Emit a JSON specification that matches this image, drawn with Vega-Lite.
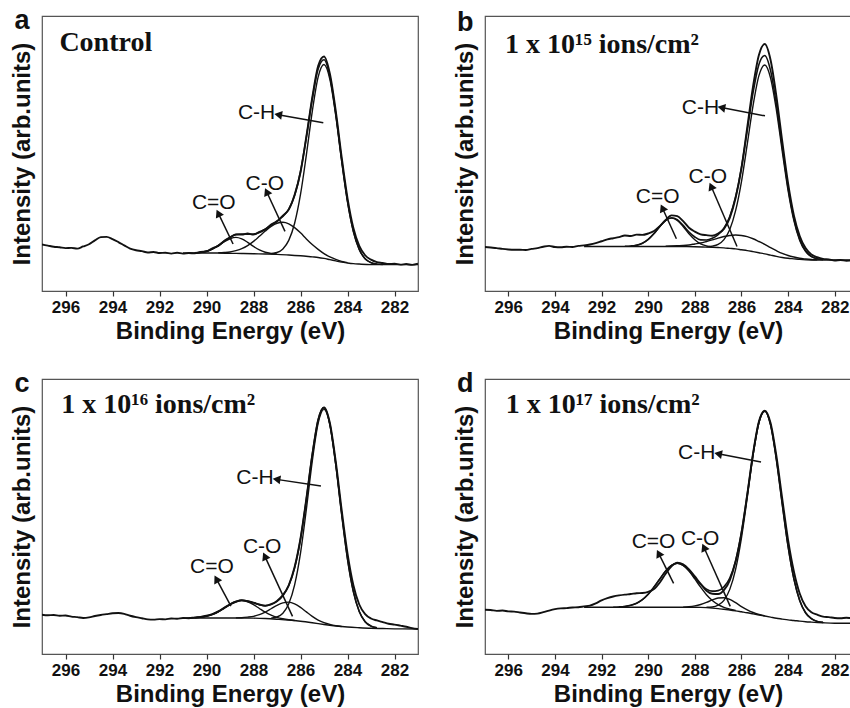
{
"$schema": "https://vega.github.io/schema/vega-lite/v6.json",
"padding": {"left": 9, "top": 6, "right": 0, "bottom": 0},
"background": "white",
"datasets": {
"curves": [
{"p":"a","s":"raw","x":297,"y":16.9},{"p":"a","s":"raw","x":296.75,"y":16.5},{"p":"a","s":"raw","x":296.5,"y":16.1},{"p":"a","s":"raw","x":296.25,"y":15.9},{"p":"a","s":"raw","x":296,"y":15.6},{"p":"a","s":"raw","x":295.75,"y":15.7},{"p":"a","s":"raw","x":295.5,"y":15.4},{"p":"a","s":"raw","x":295.25,"y":16.2},{"p":"a","s":"raw","x":295,"y":17.0},{"p":"a","s":"raw","x":294.75,"y":18.4},{"p":"a","s":"raw","x":294.5,"y":19.6},{"p":"a","s":"raw","x":294.25,"y":19.7},{"p":"a","s":"raw","x":294,"y":18.9},{"p":"a","s":"raw","x":293.75,"y":17.8},{"p":"a","s":"raw","x":293.5,"y":16.6},{"p":"a","s":"raw","x":293.25,"y":15.4},{"p":"a","s":"raw","x":293,"y":14.8},{"p":"a","s":"raw","x":292.75,"y":14.5},{"p":"a","s":"raw","x":292.5,"y":14.0},{"p":"a","s":"raw","x":292.25,"y":14.2},{"p":"a","s":"raw","x":292,"y":13.8},{"p":"a","s":"raw","x":291.75,"y":13.9},{"p":"a","s":"raw","x":291.5,"y":13.6},{"p":"a","s":"raw","x":291.25,"y":13.9},{"p":"a","s":"raw","x":291,"y":13.6},{"p":"a","s":"raw","x":290.75,"y":13.8},{"p":"a","s":"raw","x":290.5,"y":13.7},{"p":"a","s":"raw","x":290.25,"y":14.2},{"p":"a","s":"raw","x":290,"y":14.4},{"p":"a","s":"raw","x":289.75,"y":15.5},{"p":"a","s":"raw","x":289.5,"y":16.4},{"p":"a","s":"raw","x":289.25,"y":18.2},{"p":"a","s":"raw","x":289,"y":19.4},{"p":"a","s":"raw","x":288.75,"y":20.6},{"p":"a","s":"raw","x":288.5,"y":20.5},{"p":"a","s":"raw","x":288.25,"y":20.9},{"p":"a","s":"raw","x":288,"y":20.5},{"p":"a","s":"raw","x":287.75,"y":21.5},{"p":"a","s":"raw","x":287.5,"y":22.4},{"p":"a","s":"raw","x":287.25,"y":24.2},{"p":"a","s":"raw","x":287,"y":25.3},{"p":"a","s":"raw","x":286.75,"y":27.4},{"p":"a","s":"raw","x":286.5,"y":29.6},{"p":"a","s":"raw","x":286.25,"y":35.0},{"p":"a","s":"raw","x":286,"y":43.2},{"p":"a","s":"raw","x":285.75,"y":56.2},{"p":"a","s":"raw","x":285.5,"y":70.3},{"p":"a","s":"raw","x":285.25,"y":81.8},{"p":"a","s":"raw","x":285,"y":85.3},{"p":"a","s":"raw","x":284.75,"y":79.0},{"p":"a","s":"raw","x":284.5,"y":65.5},{"p":"a","s":"raw","x":284.25,"y":48.8},{"p":"a","s":"raw","x":284,"y":33.8},{"p":"a","s":"raw","x":283.75,"y":22.9},{"p":"a","s":"raw","x":283.5,"y":16.4},{"p":"a","s":"raw","x":283.25,"y":13.0},{"p":"a","s":"raw","x":283,"y":11.4},{"p":"a","s":"raw","x":282.75,"y":10.5},{"p":"a","s":"raw","x":282.5,"y":10.2},{"p":"a","s":"raw","x":282.25,"y":9.8},{"p":"a","s":"raw","x":282,"y":9.9},{"p":"a","s":"raw","x":281.75,"y":9.6},{"p":"a","s":"raw","x":281.5,"y":9.8},{"p":"a","s":"raw","x":281.25,"y":9.5},{"p":"a","s":"raw","x":281,"y":9.9},
{"p":"a","s":"env","x":290.5,"y":13.9},{"p":"a","s":"env","x":290.25,"y":14.05},{"p":"a","s":"env","x":290,"y":14.5},{"p":"a","s":"env","x":289.75,"y":15.3},{"p":"a","s":"env","x":289.5,"y":16.55},{"p":"a","s":"env","x":289.25,"y":18.1},{"p":"a","s":"env","x":289,"y":19.55},{"p":"a","s":"env","x":288.75,"y":20.5},{"p":"a","s":"env","x":288.5,"y":20.75},{"p":"a","s":"env","x":288.25,"y":20.65},{"p":"a","s":"env","x":288,"y":20.7},{"p":"a","s":"env","x":287.75,"y":21.3},{"p":"a","s":"env","x":287.5,"y":22.5},{"p":"a","s":"env","x":287.25,"y":23.95},{"p":"a","s":"env","x":287,"y":25.45},{"p":"a","s":"env","x":286.75,"y":27.1},{"p":"a","s":"env","x":286.5,"y":29.8},{"p":"a","s":"env","x":286.25,"y":34.75},{"p":"a","s":"env","x":286,"y":43.45},{"p":"a","s":"env","x":285.75,"y":55.85},{"p":"a","s":"env","x":285.5,"y":69.75},{"p":"a","s":"env","x":285.25,"y":80.75},{"p":"a","s":"env","x":285,"y":84.1},{"p":"a","s":"env","x":284.75,"y":78.0},{"p":"a","s":"env","x":284.5,"y":64.4},{"p":"a","s":"env","x":284.25,"y":47.65},{"p":"a","s":"env","x":284,"y":32.6},{"p":"a","s":"env","x":283.75,"y":21.7},{"p":"a","s":"env","x":283.5,"y":15.15},{"p":"a","s":"env","x":283.25,"y":11.75},{"p":"a","s":"env","x":283,"y":10.3},{"p":"a","s":"env","x":282.75,"y":9.8},{"p":"a","s":"env","x":282.5,"y":9.65},
{"p":"a","s":"bg","x":291,"y":13.8},{"p":"a","s":"bg","x":290,"y":13.8},{"p":"a","s":"bg","x":289.5,"y":13.8},{"p":"a","s":"bg","x":289,"y":13.7},{"p":"a","s":"bg","x":288.5,"y":13.65},{"p":"a","s":"bg","x":288,"y":13.55},{"p":"a","s":"bg","x":287.5,"y":13.45},{"p":"a","s":"bg","x":287,"y":13.3},{"p":"a","s":"bg","x":286.5,"y":13.1},{"p":"a","s":"bg","x":286,"y":12.8},{"p":"a","s":"bg","x":285.5,"y":12.4},{"p":"a","s":"bg","x":285.25,"y":12.2},{"p":"a","s":"bg","x":285,"y":11.85},{"p":"a","s":"bg","x":284.75,"y":11.4},{"p":"a","s":"bg","x":284.5,"y":10.95},{"p":"a","s":"bg","x":284.25,"y":10.5},{"p":"a","s":"bg","x":284,"y":10.2},{"p":"a","s":"bg","x":283.75,"y":9.95},{"p":"a","s":"bg","x":283.5,"y":9.8},{"p":"a","s":"bg","x":283,"y":9.6},{"p":"a","s":"bg","x":282,"y":9.6},{"p":"a","s":"bg","x":281,"y":9.6},
{"p":"a","s":"ch","x":287.25,"y":13.6},{"p":"a","s":"ch","x":287,"y":14.0},{"p":"a","s":"ch","x":286.75,"y":15.3},{"p":"a","s":"ch","x":286.5,"y":18.4},{"p":"a","s":"ch","x":286.25,"y":24.65},{"p":"a","s":"ch","x":286,"y":35.1},{"p":"a","s":"ch","x":285.75,"y":49.5},{"p":"a","s":"ch","x":285.5,"y":65.25},{"p":"a","s":"ch","x":285.25,"y":77.8},{"p":"a","s":"ch","x":285,"y":82.35},{"p":"a","s":"ch","x":284.75,"y":77.0},{"p":"a","s":"ch","x":284.5,"y":63.85},{"p":"a","s":"ch","x":284.25,"y":47.4},{"p":"a","s":"ch","x":284,"y":32.5},{"p":"a","s":"ch","x":283.75,"y":21.65},{"p":"a","s":"ch","x":283.5,"y":15.1},{"p":"a","s":"ch","x":283.25,"y":11.75},{"p":"a","s":"ch","x":283,"y":10.3},{"p":"a","s":"ch","x":282.75,"y":9.8},
{"p":"a","s":"co","x":289.5,"y":13.9},{"p":"a","s":"co","x":289.25,"y":14.0},{"p":"a","s":"co","x":289,"y":14.2},{"p":"a","s":"co","x":288.75,"y":14.7},{"p":"a","s":"co","x":288.5,"y":15.4},{"p":"a","s":"co","x":288.25,"y":16.5},{"p":"a","s":"co","x":288,"y":18.05},{"p":"a","s":"co","x":287.75,"y":19.9},{"p":"a","s":"co","x":287.5,"y":21.8},{"p":"a","s":"co","x":287.25,"y":23.5},{"p":"a","s":"co","x":287,"y":24.65},{"p":"a","s":"co","x":286.75,"y":25.0},{"p":"a","s":"co","x":286.5,"y":24.45},{"p":"a","s":"co","x":286.25,"y":23.05},{"p":"a","s":"co","x":286,"y":21.15},{"p":"a","s":"co","x":285.75,"y":18.95},{"p":"a","s":"co","x":285.5,"y":16.9},{"p":"a","s":"co","x":285.25,"y":15.15},{"p":"a","s":"co","x":285,"y":13.6},{"p":"a","s":"co","x":284.75,"y":12.4},{"p":"a","s":"co","x":284.5,"y":11.5},{"p":"a","s":"co","x":284.25,"y":10.75},{"p":"a","s":"co","x":284,"y":10.3},
{"p":"a","s":"c2o","x":290.5,"y":13.9},{"p":"a","s":"c2o","x":290.25,"y":14.05},{"p":"a","s":"c2o","x":290,"y":14.45},{"p":"a","s":"c2o","x":289.75,"y":15.25},{"p":"a","s":"c2o","x":289.5,"y":16.45},{"p":"a","s":"c2o","x":289.25,"y":17.85},{"p":"a","s":"c2o","x":289,"y":19.0},{"p":"a","s":"c2o","x":288.75,"y":19.5},{"p":"a","s":"c2o","x":288.5,"y":18.95},{"p":"a","s":"c2o","x":288.25,"y":17.7},{"p":"a","s":"c2o","x":288,"y":16.2},{"p":"a","s":"c2o","x":287.75,"y":14.95},{"p":"a","s":"c2o","x":287.5,"y":14.1},{"p":"a","s":"c2o","x":287.25,"y":13.65},{"p":"a","s":"c2o","x":287,"y":13.4},
{"p":"b","s":"raw","x":297,"y":16.0},{"p":"b","s":"raw","x":296.75,"y":15.8},{"p":"b","s":"raw","x":296.5,"y":15.6},{"p":"b","s":"raw","x":296.25,"y":15.3},{"p":"b","s":"raw","x":296,"y":15.1},{"p":"b","s":"raw","x":295.75,"y":15.0},{"p":"b","s":"raw","x":295.5,"y":15.0},{"p":"b","s":"raw","x":295.25,"y":14.9},{"p":"b","s":"raw","x":295,"y":15.3},{"p":"b","s":"raw","x":294.75,"y":15.6},{"p":"b","s":"raw","x":294.5,"y":16.1},{"p":"b","s":"raw","x":294.25,"y":16.4},{"p":"b","s":"raw","x":294,"y":16.0},{"p":"b","s":"raw","x":293.75,"y":15.9},{"p":"b","s":"raw","x":293.5,"y":16.1},{"p":"b","s":"raw","x":293.25,"y":16.0},{"p":"b","s":"raw","x":293,"y":16.4},{"p":"b","s":"raw","x":292.75,"y":16.6},{"p":"b","s":"raw","x":292.5,"y":16.9},{"p":"b","s":"raw","x":292.25,"y":17.4},{"p":"b","s":"raw","x":292,"y":18.1},{"p":"b","s":"raw","x":291.75,"y":18.8},{"p":"b","s":"raw","x":291.5,"y":19.2},{"p":"b","s":"raw","x":291.25,"y":19.6},{"p":"b","s":"raw","x":291,"y":20.2},{"p":"b","s":"raw","x":290.75,"y":20.0},{"p":"b","s":"raw","x":290.5,"y":20.5},{"p":"b","s":"raw","x":290.25,"y":20.4},{"p":"b","s":"raw","x":290,"y":20.9},{"p":"b","s":"raw","x":289.75,"y":21.8},{"p":"b","s":"raw","x":289.5,"y":23.6},{"p":"b","s":"raw","x":289.25,"y":25.8},{"p":"b","s":"raw","x":289,"y":27.5},{"p":"b","s":"raw","x":288.75,"y":27.2},{"p":"b","s":"raw","x":288.5,"y":25.4},{"p":"b","s":"raw","x":288.25,"y":23.0},{"p":"b","s":"raw","x":288,"y":21.6},{"p":"b","s":"raw","x":287.75,"y":20.6},{"p":"b","s":"raw","x":287.5,"y":20.3},{"p":"b","s":"raw","x":287.25,"y":20.1},{"p":"b","s":"raw","x":287,"y":20.9},{"p":"b","s":"raw","x":286.75,"y":22.6},{"p":"b","s":"raw","x":286.5,"y":26.6},{"p":"b","s":"raw","x":286.25,"y":33.8},{"p":"b","s":"raw","x":286,"y":44.6},{"p":"b","s":"raw","x":285.75,"y":59.5},{"p":"b","s":"raw","x":285.5,"y":74.5},{"p":"b","s":"raw","x":285.25,"y":85.8},{"p":"b","s":"raw","x":285,"y":89.8},{"p":"b","s":"raw","x":284.75,"y":84.0},{"p":"b","s":"raw","x":284.5,"y":70.8},{"p":"b","s":"raw","x":284.25,"y":54.5},{"p":"b","s":"raw","x":284,"y":39.2},{"p":"b","s":"raw","x":283.75,"y":27.5},{"p":"b","s":"raw","x":283.5,"y":20.0},{"p":"b","s":"raw","x":283.25,"y":15.6},{"p":"b","s":"raw","x":283,"y":13.3},{"p":"b","s":"raw","x":282.75,"y":12.3},{"p":"b","s":"raw","x":282.5,"y":11.7},{"p":"b","s":"raw","x":282.25,"y":11.5},{"p":"b","s":"raw","x":282,"y":11.1},{"p":"b","s":"raw","x":281.75,"y":11.3},{"p":"b","s":"raw","x":281.5,"y":11.0},{"p":"b","s":"raw","x":281.25,"y":11.1},{"p":"b","s":"raw","x":281,"y":11.0},
{"p":"b","s":"env","x":291,"y":16.25},{"p":"b","s":"env","x":290.75,"y":16.35},{"p":"b","s":"env","x":290.5,"y":16.65},{"p":"b","s":"env","x":290.25,"y":17.35},{"p":"b","s":"env","x":290,"y":18.75},{"p":"b","s":"env","x":289.75,"y":20.9},{"p":"b","s":"env","x":289.5,"y":23.5},{"p":"b","s":"env","x":289.25,"y":25.7},{"p":"b","s":"env","x":289,"y":26.65},{"p":"b","s":"env","x":288.75,"y":25.9},{"p":"b","s":"env","x":288.5,"y":23.85},{"p":"b","s":"env","x":288.25,"y":21.45},{"p":"b","s":"env","x":288,"y":19.65},{"p":"b","s":"env","x":287.75,"y":18.6},{"p":"b","s":"env","x":287.5,"y":18.55},{"p":"b","s":"env","x":287.25,"y":19.15},{"p":"b","s":"env","x":287,"y":20.45},{"p":"b","s":"env","x":286.75,"y":22.85},{"p":"b","s":"env","x":286.5,"y":27.1},{"p":"b","s":"env","x":286.25,"y":34.3},{"p":"b","s":"env","x":286,"y":44.9},{"p":"b","s":"env","x":285.75,"y":58.45},{"p":"b","s":"env","x":285.5,"y":72.2},{"p":"b","s":"env","x":285.25,"y":82.4},{"p":"b","s":"env","x":285,"y":85.65},{"p":"b","s":"env","x":284.75,"y":80.15},{"p":"b","s":"env","x":284.5,"y":67.85},{"p":"b","s":"env","x":284.25,"y":52.4},{"p":"b","s":"env","x":284,"y":37.6},{"p":"b","s":"env","x":283.75,"y":26.25},{"p":"b","s":"env","x":283.5,"y":18.8},{"p":"b","s":"env","x":283.25,"y":14.65},{"p":"b","s":"env","x":283,"y":12.6},{"p":"b","s":"env","x":282.75,"y":11.75},{"p":"b","s":"env","x":282.5,"y":11.45},
{"p":"b","s":"bg","x":292.75,"y":16.2},{"p":"b","s":"bg","x":291,"y":16.2},{"p":"b","s":"bg","x":289,"y":16.2},{"p":"b","s":"bg","x":288.5,"y":16.15},{"p":"b","s":"bg","x":288,"y":16.1},{"p":"b","s":"bg","x":287.5,"y":15.95},{"p":"b","s":"bg","x":287,"y":15.8},{"p":"b","s":"bg","x":286.75,"y":15.7},{"p":"b","s":"bg","x":286.5,"y":15.5},{"p":"b","s":"bg","x":286.25,"y":15.3},{"p":"b","s":"bg","x":286,"y":15.0},{"p":"b","s":"bg","x":285.75,"y":14.7},{"p":"b","s":"bg","x":285.5,"y":14.3},{"p":"b","s":"bg","x":285.25,"y":13.9},{"p":"b","s":"bg","x":285,"y":13.5},{"p":"b","s":"bg","x":284.75,"y":13.05},{"p":"b","s":"bg","x":284.5,"y":12.6},{"p":"b","s":"bg","x":284.25,"y":12.2},{"p":"b","s":"bg","x":284,"y":11.9},{"p":"b","s":"bg","x":283.75,"y":11.7},{"p":"b","s":"bg","x":283.5,"y":11.5},{"p":"b","s":"bg","x":283,"y":11.3},{"p":"b","s":"bg","x":282,"y":11.3},{"p":"b","s":"bg","x":281,"y":11.3},
{"p":"b","s":"ch","x":287.5,"y":16.05},{"p":"b","s":"ch","x":287.25,"y":16.3},{"p":"b","s":"ch","x":287,"y":16.95},{"p":"b","s":"ch","x":286.75,"y":18.7},{"p":"b","s":"ch","x":286.5,"y":22.4},{"p":"b","s":"ch","x":286.25,"y":29.2},{"p":"b","s":"ch","x":286,"y":39.7},{"p":"b","s":"ch","x":285.75,"y":53.4},{"p":"b","s":"ch","x":285.5,"y":67.5},{"p":"b","s":"ch","x":285.25,"y":78.3},{"p":"b","s":"ch","x":285,"y":82.2},{"p":"b","s":"ch","x":284.75,"y":77.45},{"p":"b","s":"ch","x":284.5,"y":65.8},{"p":"b","s":"ch","x":284.25,"y":50.9},{"p":"b","s":"ch","x":284,"y":36.6},{"p":"b","s":"ch","x":283.75,"y":25.6},{"p":"b","s":"ch","x":283.5,"y":18.4},{"p":"b","s":"ch","x":283.25,"y":14.4},{"p":"b","s":"ch","x":283,"y":12.45},{"p":"b","s":"ch","x":282.75,"y":11.7},{"p":"b","s":"ch","x":282.5,"y":11.4},
{"p":"b","s":"co","x":289.25,"y":16.25},{"p":"b","s":"co","x":289,"y":16.35},{"p":"b","s":"co","x":288.75,"y":16.45},{"p":"b","s":"co","x":288.5,"y":16.55},{"p":"b","s":"co","x":288.25,"y":16.75},{"p":"b","s":"co","x":288,"y":17.1},{"p":"b","s":"co","x":287.75,"y":17.45},{"p":"b","s":"co","x":287.5,"y":18.0},{"p":"b","s":"co","x":287.25,"y":18.6},{"p":"b","s":"co","x":287,"y":19.25},{"p":"b","s":"co","x":286.75,"y":19.8},{"p":"b","s":"co","x":286.5,"y":20.2},{"p":"b","s":"co","x":286.25,"y":20.35},{"p":"b","s":"co","x":286,"y":20.2},{"p":"b","s":"co","x":285.75,"y":19.75},{"p":"b","s":"co","x":285.5,"y":19.0},{"p":"b","s":"co","x":285.25,"y":18.0},{"p":"b","s":"co","x":285,"y":16.95},{"p":"b","s":"co","x":284.75,"y":15.75},{"p":"b","s":"co","x":284.5,"y":14.65},{"p":"b","s":"co","x":284.25,"y":13.65},{"p":"b","s":"co","x":284,"y":12.9},{"p":"b","s":"co","x":283.75,"y":12.35},{"p":"b","s":"co","x":283.5,"y":11.9},{"p":"b","s":"co","x":283.25,"y":11.65},{"p":"b","s":"co","x":283,"y":11.45},{"p":"b","s":"co","x":282.75,"y":11.35},
{"p":"b","s":"c2o","x":290.75,"y":16.35},{"p":"b","s":"c2o","x":290.5,"y":16.65},{"p":"b","s":"c2o","x":290.25,"y":17.35},{"p":"b","s":"c2o","x":290,"y":18.75},{"p":"b","s":"c2o","x":289.75,"y":20.9},{"p":"b","s":"c2o","x":289.5,"y":23.5},{"p":"b","s":"c2o","x":289.25,"y":25.65},{"p":"b","s":"c2o","x":289,"y":26.5},{"p":"b","s":"c2o","x":288.75,"y":25.65},{"p":"b","s":"c2o","x":288.5,"y":23.45},{"p":"b","s":"c2o","x":288.25,"y":20.8},{"p":"b","s":"c2o","x":288,"y":18.65},{"p":"b","s":"c2o","x":287.75,"y":17.15},{"p":"b","s":"c2o","x":287.5,"y":16.4},{"p":"b","s":"c2o","x":287.25,"y":16.05},
{"p":"c","s":"raw","x":297,"y":14.3},{"p":"c","s":"raw","x":296.75,"y":14.1},{"p":"c","s":"raw","x":296.5,"y":14.2},{"p":"c","s":"raw","x":296.25,"y":13.9},{"p":"c","s":"raw","x":296,"y":14.0},{"p":"c","s":"raw","x":295.75,"y":13.6},{"p":"c","s":"raw","x":295.5,"y":13.4},{"p":"c","s":"raw","x":295.25,"y":13.1},{"p":"c","s":"raw","x":295,"y":13.3},{"p":"c","s":"raw","x":294.75,"y":13.8},{"p":"c","s":"raw","x":294.5,"y":14.2},{"p":"c","s":"raw","x":294.25,"y":14.5},{"p":"c","s":"raw","x":294,"y":14.8},{"p":"c","s":"raw","x":293.75,"y":14.9},{"p":"c","s":"raw","x":293.5,"y":14.6},{"p":"c","s":"raw","x":293.25,"y":13.9},{"p":"c","s":"raw","x":293,"y":13.4},{"p":"c","s":"raw","x":292.75,"y":13.0},{"p":"c","s":"raw","x":292.5,"y":12.6},{"p":"c","s":"raw","x":292.25,"y":12.5},{"p":"c","s":"raw","x":292,"y":12.7},{"p":"c","s":"raw","x":291.75,"y":12.6},{"p":"c","s":"raw","x":291.5,"y":12.9},{"p":"c","s":"raw","x":291.25,"y":12.8},{"p":"c","s":"raw","x":291,"y":13.1},{"p":"c","s":"raw","x":290.75,"y":13.0},{"p":"c","s":"raw","x":290.5,"y":13.3},{"p":"c","s":"raw","x":290.25,"y":13.5},{"p":"c","s":"raw","x":290,"y":13.9},{"p":"c","s":"raw","x":289.75,"y":14.5},{"p":"c","s":"raw","x":289.5,"y":15.5},{"p":"c","s":"raw","x":289.25,"y":16.8},{"p":"c","s":"raw","x":289,"y":18.1},{"p":"c","s":"raw","x":288.75,"y":19.0},{"p":"c","s":"raw","x":288.5,"y":19.6},{"p":"c","s":"raw","x":288.25,"y":19.2},{"p":"c","s":"raw","x":288,"y":18.7},{"p":"c","s":"raw","x":287.75,"y":18.0},{"p":"c","s":"raw","x":287.5,"y":17.5},{"p":"c","s":"raw","x":287.25,"y":18.1},{"p":"c","s":"raw","x":287,"y":19.3},{"p":"c","s":"raw","x":286.75,"y":21.4},{"p":"c","s":"raw","x":286.5,"y":25.0},{"p":"c","s":"raw","x":286.25,"y":31.6},{"p":"c","s":"raw","x":286,"y":42.0},{"p":"c","s":"raw","x":285.75,"y":56.5},{"p":"c","s":"raw","x":285.5,"y":72.3},{"p":"c","s":"raw","x":285.25,"y":85.0},{"p":"c","s":"raw","x":285,"y":89.7},{"p":"c","s":"raw","x":284.75,"y":84.0},{"p":"c","s":"raw","x":284.5,"y":70.0},{"p":"c","s":"raw","x":284.25,"y":52.5},{"p":"c","s":"raw","x":284,"y":36.6},{"p":"c","s":"raw","x":283.75,"y":25.0},{"p":"c","s":"raw","x":283.5,"y":18.0},{"p":"c","s":"raw","x":283.25,"y":14.5},{"p":"c","s":"raw","x":283,"y":12.9},{"p":"c","s":"raw","x":282.75,"y":12.2},{"p":"c","s":"raw","x":282.5,"y":11.6},{"p":"c","s":"raw","x":282.25,"y":11.0},{"p":"c","s":"raw","x":282,"y":10.7},{"p":"c","s":"raw","x":281.75,"y":10.3},{"p":"c","s":"raw","x":281.5,"y":9.9},{"p":"c","s":"raw","x":281.25,"y":9.4},{"p":"c","s":"raw","x":281,"y":9.1},
{"p":"c","s":"env","x":290.5,"y":13.2},{"p":"c","s":"env","x":290.25,"y":13.4},{"p":"c","s":"env","x":290,"y":13.75},{"p":"c","s":"env","x":289.75,"y":14.4},{"p":"c","s":"env","x":289.5,"y":15.35},{"p":"c","s":"env","x":289.25,"y":16.65},{"p":"c","s":"env","x":289,"y":18.0},{"p":"c","s":"env","x":288.75,"y":19.05},{"p":"c","s":"env","x":288.5,"y":19.5},{"p":"c","s":"env","x":288.25,"y":19.3},{"p":"c","s":"env","x":288,"y":18.6},{"p":"c","s":"env","x":287.75,"y":17.9},{"p":"c","s":"env","x":287.5,"y":17.6},{"p":"c","s":"env","x":287.25,"y":18.0},{"p":"c","s":"env","x":287,"y":19.15},{"p":"c","s":"env","x":286.75,"y":21.2},{"p":"c","s":"env","x":286.5,"y":24.85},{"p":"c","s":"env","x":286.25,"y":31.3},{"p":"c","s":"env","x":286,"y":41.75},{"p":"c","s":"env","x":285.75,"y":56.3},{"p":"c","s":"env","x":285.5,"y":72.4},{"p":"c","s":"env","x":285.25,"y":85.15},{"p":"c","s":"env","x":285,"y":89.6},{"p":"c","s":"env","x":284.75,"y":83.55},{"p":"c","s":"env","x":284.5,"y":69.0},{"p":"c","s":"env","x":284.25,"y":51.0},{"p":"c","s":"env","x":284,"y":34.6},{"p":"c","s":"env","x":283.75,"y":22.7},{"p":"c","s":"env","x":283.5,"y":15.45},{"p":"c","s":"env","x":283.25,"y":11.75},{"p":"c","s":"env","x":283,"y":10.15},{"p":"c","s":"env","x":282.75,"y":9.55},
{"p":"c","s":"bg","x":291,"y":13.1},{"p":"c","s":"bg","x":288.5,"y":13.1},{"p":"c","s":"bg","x":288,"y":13.05},{"p":"c","s":"bg","x":287.5,"y":12.9},{"p":"c","s":"bg","x":287,"y":12.65},{"p":"c","s":"bg","x":286.5,"y":12.35},{"p":"c","s":"bg","x":286,"y":11.9},{"p":"c","s":"bg","x":285.5,"y":11.35},{"p":"c","s":"bg","x":285,"y":10.75},{"p":"c","s":"bg","x":284.5,"y":10.2},{"p":"c","s":"bg","x":284,"y":9.8},{"p":"c","s":"bg","x":283.5,"y":9.55},{"p":"c","s":"bg","x":283,"y":9.35},{"p":"c","s":"bg","x":282.5,"y":9.25},{"p":"c","s":"bg","x":282,"y":9.15},{"p":"c","s":"bg","x":281,"y":9.1},
{"p":"c","s":"ch","x":287.25,"y":13.05},{"p":"c","s":"ch","x":287,"y":13.45},{"p":"c","s":"ch","x":286.75,"y":14.8},{"p":"c","s":"ch","x":286.5,"y":18.25},{"p":"c","s":"ch","x":286.25,"y":25.15},{"p":"c","s":"ch","x":286,"y":36.7},{"p":"c","s":"ch","x":285.75,"y":52.65},{"p":"c","s":"ch","x":285.5,"y":70.05},{"p":"c","s":"ch","x":285.25,"y":83.85},{"p":"c","s":"ch","x":285,"y":88.95},{"p":"c","s":"ch","x":284.75,"y":83.25},{"p":"c","s":"ch","x":284.5,"y":68.9},{"p":"c","s":"ch","x":284.25,"y":50.95},{"p":"c","s":"ch","x":284,"y":34.6},{"p":"c","s":"ch","x":283.75,"y":22.7},{"p":"c","s":"ch","x":283.5,"y":15.45},{"p":"c","s":"ch","x":283.25,"y":11.75},{"p":"c","s":"ch","x":283,"y":10.15},{"p":"c","s":"ch","x":282.75,"y":9.55},
{"p":"c","s":"co","x":288.75,"y":13.15},{"p":"c","s":"co","x":288.5,"y":13.2},{"p":"c","s":"co","x":288.25,"y":13.4},{"p":"c","s":"co","x":288,"y":13.7},{"p":"c","s":"co","x":287.75,"y":14.3},{"p":"c","s":"co","x":287.5,"y":15.25},{"p":"c","s":"co","x":287.25,"y":16.45},{"p":"c","s":"co","x":287,"y":17.7},{"p":"c","s":"co","x":286.75,"y":18.6},{"p":"c","s":"co","x":286.5,"y":18.85},{"p":"c","s":"co","x":286.25,"y":18.25},{"p":"c","s":"co","x":286,"y":16.95},{"p":"c","s":"co","x":285.75,"y":15.3},{"p":"c","s":"co","x":285.5,"y":13.7},{"p":"c","s":"co","x":285.25,"y":12.35},{"p":"c","s":"co","x":285,"y":11.4},{"p":"c","s":"co","x":284.75,"y":10.75},{"p":"c","s":"co","x":284.5,"y":10.3},{"p":"c","s":"co","x":284.25,"y":10.0},
{"p":"c","s":"c2o","x":290.75,"y":13.15},{"p":"c","s":"c2o","x":290.5,"y":13.2},{"p":"c","s":"c2o","x":290.25,"y":13.4},{"p":"c","s":"c2o","x":290,"y":13.75},{"p":"c","s":"c2o","x":289.75,"y":14.4},{"p":"c","s":"c2o","x":289.5,"y":15.35},{"p":"c","s":"c2o","x":289.25,"y":16.65},{"p":"c","s":"c2o","x":289,"y":18.0},{"p":"c","s":"c2o","x":288.75,"y":19.0},{"p":"c","s":"c2o","x":288.5,"y":19.4},{"p":"c","s":"c2o","x":288.25,"y":19.0},{"p":"c","s":"c2o","x":288,"y":17.95},{"p":"c","s":"c2o","x":287.75,"y":16.55},{"p":"c","s":"c2o","x":287.5,"y":15.2},{"p":"c","s":"c2o","x":287.25,"y":14.1},{"p":"c","s":"c2o","x":287,"y":13.3},{"p":"c","s":"c2o","x":286.75,"y":12.8},{"p":"c","s":"c2o","x":286.5,"y":12.45},{"p":"c","s":"c2o","x":286.25,"y":12.2},
{"p":"d","s":"raw","x":297,"y":16.1},{"p":"d","s":"raw","x":296.75,"y":16.0},{"p":"d","s":"raw","x":296.5,"y":15.7},{"p":"d","s":"raw","x":296.25,"y":15.8},{"p":"d","s":"raw","x":296,"y":15.5},{"p":"d","s":"raw","x":295.75,"y":15.4},{"p":"d","s":"raw","x":295.5,"y":15.1},{"p":"d","s":"raw","x":295.25,"y":14.8},{"p":"d","s":"raw","x":295,"y":14.6},{"p":"d","s":"raw","x":294.75,"y":14.7},{"p":"d","s":"raw","x":294.5,"y":15.2},{"p":"d","s":"raw","x":294.25,"y":15.8},{"p":"d","s":"raw","x":294,"y":16.3},{"p":"d","s":"raw","x":293.75,"y":16.6},{"p":"d","s":"raw","x":293.5,"y":16.7},{"p":"d","s":"raw","x":293.25,"y":16.9},{"p":"d","s":"raw","x":293,"y":17.0},{"p":"d","s":"raw","x":292.75,"y":17.3},{"p":"d","s":"raw","x":292.5,"y":17.6},{"p":"d","s":"raw","x":292.25,"y":18.4},{"p":"d","s":"raw","x":292,"y":19.5},{"p":"d","s":"raw","x":291.75,"y":20.3},{"p":"d","s":"raw","x":291.5,"y":20.9},{"p":"d","s":"raw","x":291.25,"y":21.3},{"p":"d","s":"raw","x":291,"y":21.6},{"p":"d","s":"raw","x":290.75,"y":21.8},{"p":"d","s":"raw","x":290.5,"y":22.1},{"p":"d","s":"raw","x":290.25,"y":22.2},{"p":"d","s":"raw","x":290,"y":22.6},{"p":"d","s":"raw","x":289.75,"y":23.6},{"p":"d","s":"raw","x":289.5,"y":26.0},{"p":"d","s":"raw","x":289.25,"y":29.2},{"p":"d","s":"raw","x":289,"y":31.9},{"p":"d","s":"raw","x":288.75,"y":33.2},{"p":"d","s":"raw","x":288.5,"y":32.6},{"p":"d","s":"raw","x":288.25,"y":30.8},{"p":"d","s":"raw","x":288,"y":28.2},{"p":"d","s":"raw","x":287.75,"y":25.5},{"p":"d","s":"raw","x":287.5,"y":23.0},{"p":"d","s":"raw","x":287.25,"y":21.9},{"p":"d","s":"raw","x":287,"y":21.8},{"p":"d","s":"raw","x":286.75,"y":23.2},{"p":"d","s":"raw","x":286.5,"y":26.8},{"p":"d","s":"raw","x":286.25,"y":33.6},{"p":"d","s":"raw","x":286,"y":44.0},{"p":"d","s":"raw","x":285.75,"y":58.0},{"p":"d","s":"raw","x":285.5,"y":73.0},{"p":"d","s":"raw","x":285.25,"y":84.5},{"p":"d","s":"raw","x":285,"y":88.5},{"p":"d","s":"raw","x":284.75,"y":84.0},{"p":"d","s":"raw","x":284.5,"y":72.0},{"p":"d","s":"raw","x":284.25,"y":56.5},{"p":"d","s":"raw","x":284,"y":41.5},{"p":"d","s":"raw","x":283.75,"y":30.0},{"p":"d","s":"raw","x":283.5,"y":22.0},{"p":"d","s":"raw","x":283.25,"y":17.4},{"p":"d","s":"raw","x":283,"y":15.2},{"p":"d","s":"raw","x":282.75,"y":14.3},{"p":"d","s":"raw","x":282.5,"y":13.6},{"p":"d","s":"raw","x":282.25,"y":13.4},{"p":"d","s":"raw","x":282,"y":13.1},{"p":"d","s":"raw","x":281.75,"y":13.0},{"p":"d","s":"raw","x":281.5,"y":13.2},{"p":"d","s":"raw","x":281.25,"y":13.0},{"p":"d","s":"raw","x":281,"y":13.1},
{"p":"d","s":"env","x":291.5,"y":17.0},{"p":"d","s":"env","x":291.25,"y":17.1},{"p":"d","s":"env","x":291,"y":17.3},{"p":"d","s":"env","x":290.75,"y":17.7},{"p":"d","s":"env","x":290.5,"y":18.45},{"p":"d","s":"env","x":290.25,"y":19.75},{"p":"d","s":"env","x":290,"y":21.7},{"p":"d","s":"env","x":289.75,"y":24.35},{"p":"d","s":"env","x":289.5,"y":27.3},{"p":"d","s":"env","x":289.25,"y":30.2},{"p":"d","s":"env","x":289,"y":32.2},{"p":"d","s":"env","x":288.75,"y":33.0},{"p":"d","s":"env","x":288.5,"y":32.25},{"p":"d","s":"env","x":288.25,"y":30.4},{"p":"d","s":"env","x":288,"y":27.8},{"p":"d","s":"env","x":287.75,"y":25.35},{"p":"d","s":"env","x":287.5,"y":23.6},{"p":"d","s":"env","x":287.25,"y":22.85},{"p":"d","s":"env","x":287,"y":23.05},{"p":"d","s":"env","x":286.75,"y":24.4},{"p":"d","s":"env","x":286.5,"y":27.65},{"p":"d","s":"env","x":286.25,"y":33.85},{"p":"d","s":"env","x":286,"y":44.1},{"p":"d","s":"env","x":285.75,"y":57.95},{"p":"d","s":"env","x":285.5,"y":72.8},{"p":"d","s":"env","x":285.25,"y":84.3},{"p":"d","s":"env","x":285,"y":88.35},{"p":"d","s":"env","x":284.75,"y":83.3},{"p":"d","s":"env","x":284.5,"y":70.7},{"p":"d","s":"env","x":284.25,"y":54.6},{"p":"d","s":"env","x":284,"y":39.2},{"p":"d","s":"env","x":283.75,"y":27.3},{"p":"d","s":"env","x":283.5,"y":19.45},{"p":"d","s":"env","x":283.25,"y":15.0},{"p":"d","s":"env","x":283,"y":12.85},{"p":"d","s":"env","x":282.75,"y":11.85},{"p":"d","s":"env","x":282.5,"y":11.5},
{"p":"d","s":"bg","x":292.75,"y":17.0},{"p":"d","s":"bg","x":290,"y":17.0},{"p":"d","s":"bg","x":288,"y":17.0},{"p":"d","s":"bg","x":287.75,"y":16.95},{"p":"d","s":"bg","x":287.5,"y":16.85},{"p":"d","s":"bg","x":287.25,"y":16.7},{"p":"d","s":"bg","x":287,"y":16.5},{"p":"d","s":"bg","x":286.75,"y":16.25},{"p":"d","s":"bg","x":286.5,"y":16.0},{"p":"d","s":"bg","x":286.25,"y":15.7},{"p":"d","s":"bg","x":286,"y":15.35},{"p":"d","s":"bg","x":285.75,"y":15.0},{"p":"d","s":"bg","x":285.5,"y":14.6},{"p":"d","s":"bg","x":285.25,"y":14.2},{"p":"d","s":"bg","x":285,"y":13.8},{"p":"d","s":"bg","x":284.75,"y":13.4},{"p":"d","s":"bg","x":284.5,"y":13.0},{"p":"d","s":"bg","x":284.25,"y":12.7},{"p":"d","s":"bg","x":284,"y":12.4},{"p":"d","s":"bg","x":283.75,"y":12.2},{"p":"d","s":"bg","x":283.5,"y":11.95},{"p":"d","s":"bg","x":283.25,"y":11.75},{"p":"d","s":"bg","x":283,"y":11.6},{"p":"d","s":"bg","x":282.5,"y":11.35},{"p":"d","s":"bg","x":282,"y":11.2},{"p":"d","s":"bg","x":281,"y":11.2},
{"p":"d","s":"ch","x":287.5,"y":17.0},{"p":"d","s":"ch","x":287.25,"y":17.1},{"p":"d","s":"ch","x":287,"y":17.75},{"p":"d","s":"ch","x":286.75,"y":19.5},{"p":"d","s":"ch","x":286.5,"y":23.5},{"p":"d","s":"ch","x":286.25,"y":30.8},{"p":"d","s":"ch","x":286,"y":42.15},{"p":"d","s":"ch","x":285.75,"y":56.9},{"p":"d","s":"ch","x":285.5,"y":72.3},{"p":"d","s":"ch","x":285.25,"y":84.1},{"p":"d","s":"ch","x":285,"y":88.3},{"p":"d","s":"ch","x":284.75,"y":83.3},{"p":"d","s":"ch","x":284.5,"y":70.7},{"p":"d","s":"ch","x":284.25,"y":54.6},{"p":"d","s":"ch","x":284,"y":39.2},{"p":"d","s":"ch","x":283.75,"y":27.3},{"p":"d","s":"ch","x":283.5,"y":19.45},{"p":"d","s":"ch","x":283.25,"y":15.0},{"p":"d","s":"ch","x":283,"y":12.85},{"p":"d","s":"ch","x":282.75,"y":11.85},{"p":"d","s":"ch","x":282.5,"y":11.5},
{"p":"d","s":"co","x":288.5,"y":17.05},{"p":"d","s":"co","x":288.25,"y":17.2},{"p":"d","s":"co","x":288,"y":17.5},{"p":"d","s":"co","x":287.75,"y":18.0},{"p":"d","s":"co","x":287.5,"y":18.75},{"p":"d","s":"co","x":287.25,"y":19.65},{"p":"d","s":"co","x":287,"y":20.35},{"p":"d","s":"co","x":286.75,"y":20.45},{"p":"d","s":"co","x":286.5,"y":19.85},{"p":"d","s":"co","x":286.25,"y":18.65},{"p":"d","s":"co","x":286,"y":17.25},{"p":"d","s":"co","x":285.75,"y":16.05},{"p":"d","s":"co","x":285.5,"y":15.1},{"p":"d","s":"co","x":285.25,"y":14.4},{"p":"d","s":"co","x":285,"y":13.85},
{"p":"d","s":"c2o","x":291.25,"y":17.1},{"p":"d","s":"c2o","x":291,"y":17.3},{"p":"d","s":"c2o","x":290.75,"y":17.7},{"p":"d","s":"c2o","x":290.5,"y":18.45},{"p":"d","s":"c2o","x":290.25,"y":19.75},{"p":"d","s":"c2o","x":290,"y":21.7},{"p":"d","s":"c2o","x":289.75,"y":24.35},{"p":"d","s":"c2o","x":289.5,"y":27.3},{"p":"d","s":"c2o","x":289.25,"y":30.2},{"p":"d","s":"c2o","x":289,"y":32.2},{"p":"d","s":"c2o","x":288.75,"y":33.0},{"p":"d","s":"c2o","x":288.5,"y":32.2},{"p":"d","s":"c2o","x":288.25,"y":30.2},{"p":"d","s":"c2o","x":288,"y":27.3},{"p":"d","s":"c2o","x":287.75,"y":24.3},{"p":"d","s":"c2o","x":287.5,"y":21.55},{"p":"d","s":"c2o","x":287.25,"y":19.45},{"p":"d","s":"c2o","x":287,"y":17.95},{"p":"d","s":"c2o","x":286.75,"y":16.95},{"p":"d","s":"c2o","x":286.5,"y":16.3},{"p":"d","s":"c2o","x":286.25,"y":15.8}
],
"notes": [
{"p":"a","t":"C-H","x":287.87,"y":64.7,"tx":285.03,"ty":61.2,"hx":286.95,"hy":64.1},
{"p":"a","t":"C-O","x":287.52,"y":39.0,"tx":286.66,"ty":21.7,"hx":287.44,"hy":36.1},
{"p":"a","t":"C=O","x":289.69,"y":31.9,"tx":288.87,"ty":17.1,"hx":289.5,"hy":28.3},
{"p":"b","t":"C-H","x":287.76,"y":66.7,"tx":284.99,"ty":63.7,"hx":286.86,"hy":66.7},
{"p":"b","t":"C-O","x":287.44,"y":41.4,"tx":286.19,"ty":16.2,"hx":287.3,"hy":38.1},
{"p":"b","t":"C=O","x":289.59,"y":34.3,"tx":288.79,"ty":19.0,"hx":289.39,"hy":30.2},
{"p":"c","t":"C-H","x":287.94,"y":64.0,"tx":285.13,"ty":61.1,"hx":287.02,"hy":63.5},
{"p":"c","t":"C-O","x":287.63,"y":39.0,"tx":286.34,"ty":13.7,"hx":287.52,"hy":35.6},
{"p":"c","t":"C=O","x":289.77,"y":31.7,"tx":288.96,"ty":17.4,"hx":289.58,"hy":27.3},
{"p":"d","t":"C-H","x":287.92,"y":73.1,"tx":285.16,"ty":69.8,"hx":287.0,"hy":72.8},
{"p":"d","t":"C-O","x":287.77,"y":41.9,"tx":286.48,"ty":17.3,"hx":287.61,"hy":38.8},
{"p":"d","t":"C=O","x":289.77,"y":40.7,"tx":288.91,"ty":25.7,"hx":289.55,"hy":36.6}
],
"labels": [
{"p":"a","k":"title","t":"Control","x":296.26,"y":87.3},
{"p":"b","k":"title","t":"1 x 10¹⁵ ions/cm²","x":296.14,"y":86.7},
{"p":"c","k":"title","t":"1 x 10¹⁶ ions/cm²","x":296.18,"y":87.8},
{"p":"d","k":"title","t":"1 x 10¹⁷ ions/cm²","x":296.11,"y":87.6},
{"p":"a","k":"letter","t":"a","x":297.85,"y":95.2},
{"p":"b","k":"letter","t":"b","x":297.85,"y":94.5},
{"p":"c","k":"letter","t":"c","x":297.85,"y":95.2},
{"p":"d","k":"letter","t":"d","x":297.85,"y":95.1}
]
},
"columns": 2,
"spacing": {"row": 88, "column": 67},
"bounds": "flush",
"concat": [
{"width": 376, "height": 275, "layer": [
{"data": {"name": "curves"}, "transform": [{"filter": "datum.p==='a' && datum.s==='raw'"}], "mark": {"type": "line", "color": "#111", "strokeWidth": 1.9, "interpolate": "monotone", "clip": true},
 "encoding": {"x": {"field": "x", "type": "quantitative", "scale": {"domain": [297, 281], "nice": false, "zero": false}, "axis": {"title": "Binding Energy (eV)", "values": [296,295,294,293,292,291,290,289,288,287,286,285,284,283,282], "labelExpr": "datum.value % 2 === 0 ? datum.label : ''", "encode": {"ticks": {"update": {"y2": {"signal": "datum.value % 2 === 0 ? 5 : 3"}}}}}},
  "y": {"field": "y", "type": "quantitative", "scale": {"domain": [0, 100], "nice": false, "zero": false}, "axis": {"title": "Intensity (arb.units)"}}}},
{"data": {"name": "curves"}, "transform": [{"filter": "datum.p==='a' && datum.s==='env'"}], "mark": {"type": "line", "color": "#111", "strokeWidth": 1.6, "interpolate": "monotone", "clip": true}, "encoding": {"x": {"field": "x", "type": "quantitative"}, "y": {"field": "y", "type": "quantitative"}}},
{"data": {"name": "curves"}, "transform": [{"filter": "datum.p==='a' && datum.s!=='raw' && datum.s!=='env'"}], "mark": {"type": "line", "color": "#111", "strokeWidth": 1.4, "interpolate": "monotone", "clip": true}, "encoding": {"x": {"field": "x", "type": "quantitative"}, "y": {"field": "y", "type": "quantitative"}, "detail": {"field": "s"}}},
{"data": {"name": "notes"}, "transform": [{"filter": "datum.p==='a'"}], "mark": {"type": "rule", "color": "#111", "strokeWidth": 1.5}, "encoding": {"x": {"field": "tx", "type": "quantitative"}, "y": {"field": "ty", "type": "quantitative"}, "x2": {"field": "hx"}, "y2": {"field": "hy"}}},
{"data": {"name": "notes"}, "transform": [{"filter": "datum.p==='a'"}, {"calculate": "atan2(-(datum.hx-datum.tx)*23.4, (datum.hy-datum.ty)*2.75)*180/PI", "as": "ang"}], "mark": {"type": "point", "shape": "triangle-up", "filled": true, "color": "#111", "size": 80, "opacity": 1}, "encoding": {"x": {"field": "hx", "type": "quantitative"}, "y": {"field": "hy", "type": "quantitative"}, "angle": {"field": "ang", "type": "quantitative", "scale": null}}},
{"data": {"name": "notes"}, "transform": [{"filter": "datum.p==='a'"}], "mark": {"type": "text", "font": "Liberation Sans", "fontSize": 21, "color": "#111", "align": "center", "baseline": "middle"}, "encoding": {"x": {"field": "x", "type": "quantitative"}, "y": {"field": "y", "type": "quantitative"}, "text": {"field": "t"}}},
{"data": {"name": "labels"}, "transform": [{"filter": "datum.p==='a' && datum.k==='title'"}], "mark": {"type": "text", "font": "Liberation Serif", "fontSize": 28, "fontWeight": "bold", "color": "#111", "align": "left", "baseline": "alphabetic"}, "encoding": {"x": {"field": "x", "type": "quantitative"}, "y": {"field": "y", "type": "quantitative"}, "text": {"field": "t"}}},
{"data": {"name": "labels"}, "transform": [{"filter": "datum.p==='a' && datum.k==='letter'"}], "mark": {"type": "text", "font": "Liberation Sans", "fontSize": 27, "fontWeight": "bold", "color": "#111", "align": "center", "baseline": "alphabetic"}, "encoding": {"x": {"field": "x", "type": "quantitative"}, "y": {"field": "y", "type": "quantitative"}, "text": {"field": "t"}}}
]},
{"width": 366, "height": 275, "layer": [
{"data": {"name": "curves"}, "transform": [{"filter": "datum.p==='b' && datum.s==='raw'"}], "mark": {"type": "line", "color": "#111", "strokeWidth": 1.9, "interpolate": "monotone", "clip": true},
 "encoding": {"x": {"field": "x", "type": "quantitative", "scale": {"domain": [297, 281.3], "nice": false, "zero": false}, "axis": {"title": "Binding Energy (eV)", "values": [296,295,294,293,292,291,290,289,288,287,286,285,284,283,282], "labelExpr": "datum.value % 2 === 0 ? datum.label : ''", "encode": {"ticks": {"update": {"y2": {"signal": "datum.value % 2 === 0 ? 5 : 3"}}}}}},
  "y": {"field": "y", "type": "quantitative", "scale": {"domain": [0, 100], "nice": false, "zero": false}, "axis": {"title": "Intensity (arb.units)"}}}},
{"data": {"name": "curves"}, "transform": [{"filter": "datum.p==='b' && datum.s==='env'"}], "mark": {"type": "line", "color": "#111", "strokeWidth": 1.6, "interpolate": "monotone", "clip": true}, "encoding": {"x": {"field": "x", "type": "quantitative"}, "y": {"field": "y", "type": "quantitative"}}},
{"data": {"name": "curves"}, "transform": [{"filter": "datum.p==='b' && datum.s!=='raw' && datum.s!=='env'"}], "mark": {"type": "line", "color": "#111", "strokeWidth": 1.4, "interpolate": "monotone", "clip": true}, "encoding": {"x": {"field": "x", "type": "quantitative"}, "y": {"field": "y", "type": "quantitative"}, "detail": {"field": "s"}}},
{"data": {"name": "notes"}, "transform": [{"filter": "datum.p==='b'"}], "mark": {"type": "rule", "color": "#111", "strokeWidth": 1.5}, "encoding": {"x": {"field": "tx", "type": "quantitative"}, "y": {"field": "ty", "type": "quantitative"}, "x2": {"field": "hx"}, "y2": {"field": "hy"}}},
{"data": {"name": "notes"}, "transform": [{"filter": "datum.p==='b'"}, {"calculate": "atan2(-(datum.hx-datum.tx)*23.4, (datum.hy-datum.ty)*2.75)*180/PI", "as": "ang"}], "mark": {"type": "point", "shape": "triangle-up", "filled": true, "color": "#111", "size": 80, "opacity": 1}, "encoding": {"x": {"field": "hx", "type": "quantitative"}, "y": {"field": "hy", "type": "quantitative"}, "angle": {"field": "ang", "type": "quantitative", "scale": null}}},
{"data": {"name": "notes"}, "transform": [{"filter": "datum.p==='b'"}], "mark": {"type": "text", "font": "Liberation Sans", "fontSize": 21, "color": "#111", "align": "center", "baseline": "middle"}, "encoding": {"x": {"field": "x", "type": "quantitative"}, "y": {"field": "y", "type": "quantitative"}, "text": {"field": "t"}}},
{"data": {"name": "labels"}, "transform": [{"filter": "datum.p==='b' && datum.k==='title'"}], "mark": {"type": "text", "font": "Liberation Serif", "fontSize": 28, "fontWeight": "bold", "color": "#111", "align": "left", "baseline": "alphabetic"}, "encoding": {"x": {"field": "x", "type": "quantitative"}, "y": {"field": "y", "type": "quantitative"}, "text": {"field": "t"}}},
{"data": {"name": "labels"}, "transform": [{"filter": "datum.p==='b' && datum.k==='letter'"}], "mark": {"type": "text", "font": "Liberation Sans", "fontSize": 27, "fontWeight": "bold", "color": "#111", "align": "center", "baseline": "alphabetic"}, "encoding": {"x": {"field": "x", "type": "quantitative"}, "y": {"field": "y", "type": "quantitative"}, "text": {"field": "t"}}}
]},
{"width": 376, "height": 275, "layer": [
{"data": {"name": "curves"}, "transform": [{"filter": "datum.p==='c' && datum.s==='raw'"}], "mark": {"type": "line", "color": "#111", "strokeWidth": 1.9, "interpolate": "monotone", "clip": true},
 "encoding": {"x": {"field": "x", "type": "quantitative", "scale": {"domain": [297, 281], "nice": false, "zero": false}, "axis": {"title": "Binding Energy (eV)", "values": [296,295,294,293,292,291,290,289,288,287,286,285,284,283,282], "labelExpr": "datum.value % 2 === 0 ? datum.label : ''", "encode": {"ticks": {"update": {"y2": {"signal": "datum.value % 2 === 0 ? 5 : 3"}}}}}},
  "y": {"field": "y", "type": "quantitative", "scale": {"domain": [0, 100], "nice": false, "zero": false}, "axis": {"title": "Intensity (arb.units)"}}}},
{"data": {"name": "curves"}, "transform": [{"filter": "datum.p==='c' && datum.s==='env'"}], "mark": {"type": "line", "color": "#111", "strokeWidth": 1.6, "interpolate": "monotone", "clip": true}, "encoding": {"x": {"field": "x", "type": "quantitative"}, "y": {"field": "y", "type": "quantitative"}}},
{"data": {"name": "curves"}, "transform": [{"filter": "datum.p==='c' && datum.s!=='raw' && datum.s!=='env'"}], "mark": {"type": "line", "color": "#111", "strokeWidth": 1.4, "interpolate": "monotone", "clip": true}, "encoding": {"x": {"field": "x", "type": "quantitative"}, "y": {"field": "y", "type": "quantitative"}, "detail": {"field": "s"}}},
{"data": {"name": "notes"}, "transform": [{"filter": "datum.p==='c'"}], "mark": {"type": "rule", "color": "#111", "strokeWidth": 1.5}, "encoding": {"x": {"field": "tx", "type": "quantitative"}, "y": {"field": "ty", "type": "quantitative"}, "x2": {"field": "hx"}, "y2": {"field": "hy"}}},
{"data": {"name": "notes"}, "transform": [{"filter": "datum.p==='c'"}, {"calculate": "atan2(-(datum.hx-datum.tx)*23.4, (datum.hy-datum.ty)*2.75)*180/PI", "as": "ang"}], "mark": {"type": "point", "shape": "triangle-up", "filled": true, "color": "#111", "size": 80, "opacity": 1}, "encoding": {"x": {"field": "hx", "type": "quantitative"}, "y": {"field": "hy", "type": "quantitative"}, "angle": {"field": "ang", "type": "quantitative", "scale": null}}},
{"data": {"name": "notes"}, "transform": [{"filter": "datum.p==='c'"}], "mark": {"type": "text", "font": "Liberation Sans", "fontSize": 21, "color": "#111", "align": "center", "baseline": "middle"}, "encoding": {"x": {"field": "x", "type": "quantitative"}, "y": {"field": "y", "type": "quantitative"}, "text": {"field": "t"}}},
{"data": {"name": "labels"}, "transform": [{"filter": "datum.p==='c' && datum.k==='title'"}], "mark": {"type": "text", "font": "Liberation Serif", "fontSize": 28, "fontWeight": "bold", "color": "#111", "align": "left", "baseline": "alphabetic"}, "encoding": {"x": {"field": "x", "type": "quantitative"}, "y": {"field": "y", "type": "quantitative"}, "text": {"field": "t"}}},
{"data": {"name": "labels"}, "transform": [{"filter": "datum.p==='c' && datum.k==='letter'"}], "mark": {"type": "text", "font": "Liberation Sans", "fontSize": 27, "fontWeight": "bold", "color": "#111", "align": "center", "baseline": "alphabetic"}, "encoding": {"x": {"field": "x", "type": "quantitative"}, "y": {"field": "y", "type": "quantitative"}, "text": {"field": "t"}}}
]},
{"width": 366, "height": 275, "layer": [
{"data": {"name": "curves"}, "transform": [{"filter": "datum.p==='d' && datum.s==='raw'"}], "mark": {"type": "line", "color": "#111", "strokeWidth": 1.9, "interpolate": "monotone", "clip": true},
 "encoding": {"x": {"field": "x", "type": "quantitative", "scale": {"domain": [297, 281.3], "nice": false, "zero": false}, "axis": {"title": "Binding Energy (eV)", "values": [296,295,294,293,292,291,290,289,288,287,286,285,284,283,282], "labelExpr": "datum.value % 2 === 0 ? datum.label : ''", "encode": {"ticks": {"update": {"y2": {"signal": "datum.value % 2 === 0 ? 5 : 3"}}}}}},
  "y": {"field": "y", "type": "quantitative", "scale": {"domain": [0, 100], "nice": false, "zero": false}, "axis": {"title": "Intensity (arb.units)"}}}},
{"data": {"name": "curves"}, "transform": [{"filter": "datum.p==='d' && datum.s==='env'"}], "mark": {"type": "line", "color": "#111", "strokeWidth": 1.6, "interpolate": "monotone", "clip": true}, "encoding": {"x": {"field": "x", "type": "quantitative"}, "y": {"field": "y", "type": "quantitative"}}},
{"data": {"name": "curves"}, "transform": [{"filter": "datum.p==='d' && datum.s!=='raw' && datum.s!=='env'"}], "mark": {"type": "line", "color": "#111", "strokeWidth": 1.4, "interpolate": "monotone", "clip": true}, "encoding": {"x": {"field": "x", "type": "quantitative"}, "y": {"field": "y", "type": "quantitative"}, "detail": {"field": "s"}}},
{"data": {"name": "notes"}, "transform": [{"filter": "datum.p==='d'"}], "mark": {"type": "rule", "color": "#111", "strokeWidth": 1.5}, "encoding": {"x": {"field": "tx", "type": "quantitative"}, "y": {"field": "ty", "type": "quantitative"}, "x2": {"field": "hx"}, "y2": {"field": "hy"}}},
{"data": {"name": "notes"}, "transform": [{"filter": "datum.p==='d'"}, {"calculate": "atan2(-(datum.hx-datum.tx)*23.4, (datum.hy-datum.ty)*2.75)*180/PI", "as": "ang"}], "mark": {"type": "point", "shape": "triangle-up", "filled": true, "color": "#111", "size": 80, "opacity": 1}, "encoding": {"x": {"field": "hx", "type": "quantitative"}, "y": {"field": "hy", "type": "quantitative"}, "angle": {"field": "ang", "type": "quantitative", "scale": null}}},
{"data": {"name": "notes"}, "transform": [{"filter": "datum.p==='d'"}], "mark": {"type": "text", "font": "Liberation Sans", "fontSize": 21, "color": "#111", "align": "center", "baseline": "middle"}, "encoding": {"x": {"field": "x", "type": "quantitative"}, "y": {"field": "y", "type": "quantitative"}, "text": {"field": "t"}}},
{"data": {"name": "labels"}, "transform": [{"filter": "datum.p==='d' && datum.k==='title'"}], "mark": {"type": "text", "font": "Liberation Serif", "fontSize": 28, "fontWeight": "bold", "color": "#111", "align": "left", "baseline": "alphabetic"}, "encoding": {"x": {"field": "x", "type": "quantitative"}, "y": {"field": "y", "type": "quantitative"}, "text": {"field": "t"}}},
{"data": {"name": "labels"}, "transform": [{"filter": "datum.p==='d' && datum.k==='letter'"}], "mark": {"type": "text", "font": "Liberation Sans", "fontSize": 27, "fontWeight": "bold", "color": "#111", "align": "center", "baseline": "alphabetic"}, "encoding": {"x": {"field": "x", "type": "quantitative"}, "y": {"field": "y", "type": "quantitative"}, "text": {"field": "t"}}}
]}
],
"config": {
 "view": {"stroke": "#555", "strokeWidth": 1.2},
 "axisX": {"domain": false, "grid": false, "tickColor": "#333", "tickSize": 5, "tickWidth": 1.2, "labelFont": "Liberation Sans", "labelFontSize": 17, "labelFontWeight": "bold", "labelColor": "#111", "labelPadding": 3, "labelOverlap": false, "labelFlush": false, "titleFont": "Liberation Sans", "titleFontSize": 24, "titleFontWeight": "bold", "titleColor": "#111", "titlePadding": 4},
 "axisY": {"domain": false, "grid": false, "ticks": false, "labels": false, "titleFont": "Liberation Sans", "titleFontSize": 24, "titleFontWeight": "bold", "titleColor": "#111", "titlePadding": 8}
}
}
